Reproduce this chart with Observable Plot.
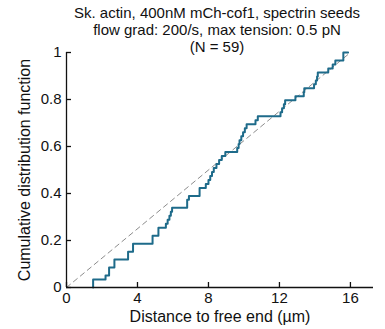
<!DOCTYPE html>
<html><head><meta charset="utf-8">
<script src="https://cdn.jsdelivr.net/npm/d3@7"></script>
<script src="https://cdn.jsdelivr.net/npm/@observablehq/plot@0.6"></script>
<style>
html,body{margin:0;padding:0;background:#fff;overflow:hidden;}
#wrap{position:relative;width:385px;height:329px;}
#title{position:absolute;left:49px;width:336px;top:5px;text-align:center;font-family:"Liberation Sans",Arial,sans-serif;font-size:15px;line-height:16.9px;color:#111;}
</style></head><body>
<div id="wrap"><div id="chart"></div><div id="title"></div></div>
<script>
const titleLines = [
  "Sk. actin, 400nM mCh-cof1, spectrin seeds",
  "flow grad: 200/s, max tension: 0.5 pN",
  "(N = 59)"
];
const xLabel = "Distance to free end (µm)";
const yLabel = "Cumulative distribution function";
// distances to free end (µm), sorted, read from the staircase
const distances = [
  1.5, 1.5, 2.2, 2.4, 2.4, 2.7, 2.7, 3.47, 3.47, 3.75, 3.75,
  4.85, 4.85, 5.18, 5.18, 5.6, 5.7, 5.8, 5.88, 5.95,
  6.8, 6.8, 6.9, 7.5, 7.5,
  7.85, 8.0, 8.1, 8.2, 8.3, 8.45, 8.6, 8.75, 8.95,
  9.62, 9.7, 9.75, 9.85, 9.95, 10.05, 10.15, 10.65, 10.78,
  12.06, 12.15, 12.25, 12.32, 12.9, 13.37, 13.4,
  13.95, 14.05, 14.12, 14.16, 14.75, 15.0, 15.15, 15.6, 15.6
];
const stairEnd = 15.87;      // where the drawn staircase stops
const uniformMax = 16;       // dashed reference: uniform CDF on [0, 16]
const xDomain = [0, 17.3];
const yDomain = [0, 1];
const xTicks = [0, 4, 8, 12, 16];
const yTicks = [0, 0.2, 0.4, 0.6, 0.8, 1];
const yTickLabels = ["0", "0.2", "0.4", "0.6", "0.8", "1"];

document.getElementById("title").innerHTML = titleLines.map(t => `<div>${t}</div>`).join("");

const N = distances.length;
const sorted = distances.slice().sort((a, b) => a - b);
const stairs = [{x: sorted[0], y: 0}];
const distinct = Array.from(new Set(sorted));
for (const v of distinct) {
  stairs.push({x: v, y: sorted.filter(d => d <= v).length / N});
}
stairs.push({x: stairEnd, y: 1});
const uniformLine = [0, uniformMax].map(x => ({x, y: x / uniformMax}));

const W = 385, H = 329, mL = 66, mR = 12, mT = 52, mB = 42;
const frameW = W - mL - mR, frameH = H - mT - mB, tickLen = 5;
const ink = "#111";

const chart = Plot.plot({
  width: W, height: H,
  marginLeft: mL, marginRight: mR, marginTop: mT, marginBottom: mB,
  style: {fontFamily: "'Liberation Sans', Arial, sans-serif", fontSize: "15px", background: "#fff", color: ink, overflow: "visible"},
  x: {domain: xDomain},
  y: {domain: yDomain},
  marks: [
    Plot.line(uniformLine, {x: "x", y: "y", stroke: "#8c8c8c", strokeWidth: 1, strokeDasharray: "5,4"}),
    Plot.line(stairs, {x: "x", y: "y", curve: "step-after", stroke: "#1e6b8a", strokeWidth: 2}),
    Plot.ruleX([xDomain[0]], {stroke: ink, strokeWidth: 1.3}),
    Plot.ruleY([yDomain[0]], {stroke: ink, strokeWidth: 1.3}),
    Plot.tickX(xTicks, {x: d => d, insetTop: frameH - tickLen, stroke: ink, strokeWidth: 1.3}),
    Plot.tickY(yTicks, {y: d => d, insetRight: frameW - tickLen, stroke: ink, strokeWidth: 1.3}),
    Plot.axisX({ticks: xTicks, tickSize: 0, tickPadding: 5, label: null, fontSize: 15}),
    Plot.axisY({ticks: yTicks, tickSize: 0, tickPadding: 5, label: null, fontSize: 15,
      tickFormat: d => yTickLabels[yTicks.indexOf(d)]}),
    Plot.axisX([], {label: xLabel, labelArrow: "none", labelAnchor: "center", labelOffset: 34, fontSize: 16, tickSize: 0}),
    Plot.axisY([], {label: yLabel, labelArrow: "none", labelAnchor: "center", labelOffset: 48, fontSize: 16, tickSize: 0})
  ]
});
document.getElementById("chart").appendChild(chart);
</script>
</body></html>
